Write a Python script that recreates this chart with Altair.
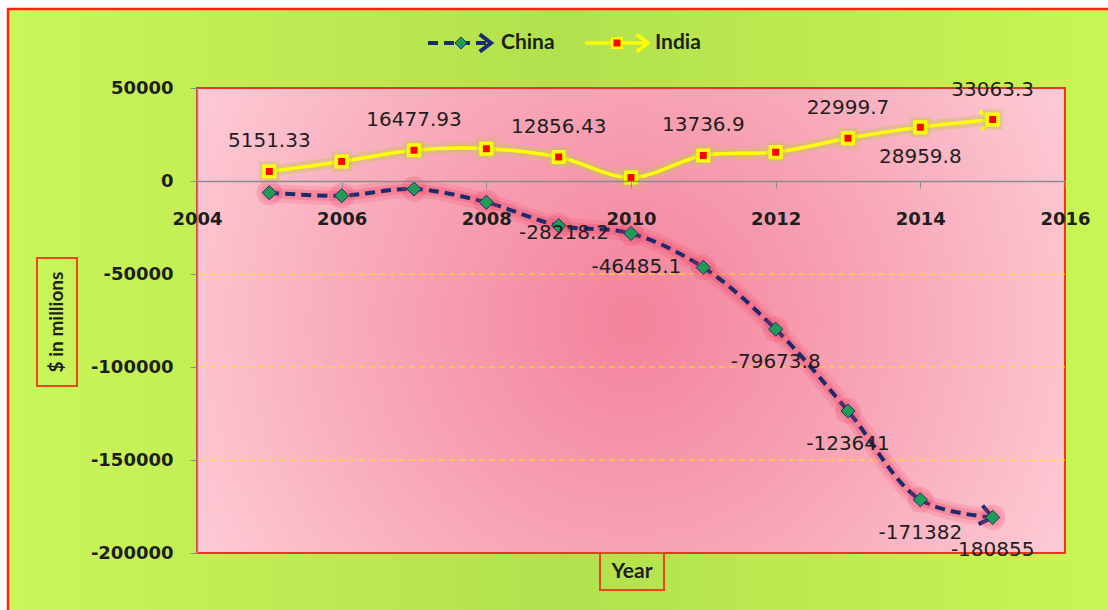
import altair as alt
import pandas as pd

# Trade balance per year, $ in millions
YEARS = [2005, 2006, 2007, 2008, 2009, 2010, 2011, 2012, 2013, 2014, 2015]
CHINA = [-6300, -7900, -4300, -11450, -24000, -28218.2, -46485.1,
         -79673.8, -123641, -171382, -180855]
INDIA = [5151.33, 10450, 16477.93, 17400, 12856.43, 1900, 13736.9,
         15500, 22999.7, 28959.8, 33063.3]

# years that carry a value label, grouped by where the label sits
INDIA_LABEL_ABOVE = [2005, 2007, 2009, 2011, 2013, 2015]
INDIA_LABEL_BELOW = [2014]
CHINA_LABEL_LEFT = [2010, 2011]
CHINA_LABEL_BELOW = [2012, 2013, 2014, 2015]

X_TICKS = [2004, 2006, 2008, 2010, 2012, 2014, 2016]
Y_TICKS = [50000, 0, -50000, -100000, -150000, -200000]
GRID_LINES = [-50000, -100000, -150000]

W, H = 868, 465
PAD = {"left": 197, "top": 88, "right": 43, "bottom": 57}
ZERO_PX = H * Y_TICKS[0] / (Y_TICKS[0] - Y_TICKS[-1])

NAVY = "#1b2b6e"
TEXT = "#1e1e1e"
LABEL_FONT = "DejaVu Sans"
TITLE_FONT = "Lato"


def fmt(v):
    return ("%f" % v).rstrip("0").rstrip(".")


china = pd.DataFrame({"year": YEARS, "value": CHINA, "label": [fmt(v) for v in CHINA]})
india = pd.DataFrame({"year": YEARS, "value": INDIA, "label": [fmt(v) for v in INDIA]})
grid = pd.DataFrame({"value": GRID_LINES})
one = pd.DataFrame({"k": [0]})

x_scale = alt.Scale(domain=[X_TICKS[0], X_TICKS[-1]], nice=False, zero=False)
y_scale = alt.Scale(domain=[Y_TICKS[-1], Y_TICKS[0]], nice=False, zero=False)

x_axis = alt.Axis(
    values=X_TICKS, orient="bottom", offset=-(H - ZERO_PX), title=None,
    grid=False, zindex=1, labelExpr="datum.value + ''", labelFlush=False,
    labelOverlap=False, tickSize=7, tickColor="#8c8c8c", domainColor="#8c8c8c",
    domainWidth=1.5, labelFont=LABEL_FONT, labelFontWeight="bold",
    labelFontSize=18, labelColor=TEXT, labelPadding=22,
)
y_axis = alt.Axis(
    values=Y_TICKS, title=None, grid=False, zindex=1,
    labelExpr="datum.value + ''", labelFlush=False, labelOverlap=False,
    tickSize=7, tickColor="#8c8c8c", domainColor="#8c8c8c", domainWidth=1.5,
    labelFont=LABEL_FONT, labelFontWeight="bold", labelFontSize=18,
    labelColor=TEXT, labelPadding=17,
)

X = alt.X("year:Q", scale=x_scale, axis=x_axis)
Y = alt.Y("value:Q", scale=y_scale, axis=y_axis)

# chart background and plot area
outer_bg = alt.Chart(one).mark_rect(
    fill=alt.LinearGradient(
        gradient="linear", x1=0, x2=1, y1=0, y2=0,
        stops=[alt.GradientStop(color="#cbf659", offset=0),
               alt.GradientStop(color="#b1e14d", offset=0.5),
               alt.GradientStop(color="#c9f654", offset=1)]),
    stroke="#ff2010", strokeWidth=2.5,
).encode(x=alt.value(-PAD["left"] + 8), x2=alt.value(W + PAD["right"] + 10),
         y=alt.value(-PAD["top"] + 9), y2=alt.value(H + PAD["bottom"] + 10))

plot_bg = alt.Chart(one).mark_rect(
    fill=alt.RadialGradient(
        gradient="radial", x1=0.5, y1=0.5, x2=0.5, y2=0.5, r1=0, r2=0.68,
        stops=[alt.GradientStop(color="#f3829b", offset=0),
               alt.GradientStop(color="#f8a8b9", offset=0.45),
               alt.GradientStop(color="#ffdbe2", offset=1)]),
    stroke="#f0321e", strokeWidth=2,
).encode(x=alt.value(0), x2=alt.value(W), y=alt.value(0), y2=alt.value(H))

grid_rules = alt.Chart(grid).mark_rule(
    color="#ffe600", strokeDash=[6, 4], strokeWidth=1.2
).encode(y=Y)

# series lines with soft halos
china_base = alt.Chart(china)
india_base = alt.Chart(india)

china_glow1 = china_base.mark_line(
    interpolate="catmull-rom", color="#f0405f", strokeWidth=18, opacity=0.16,
    strokeCap="round").encode(x=X, y=Y)
china_glow2 = china_base.mark_line(
    interpolate="catmull-rom", color="#ee3c5c", strokeWidth=10, opacity=0.25,
    strokeCap="round").encode(x=X, y=Y)
india_glow = india_base.mark_line(
    interpolate="catmull-rom", color="#c9c45a", strokeWidth=11, opacity=0.45,
    strokeCap="round").encode(x=X, y=Y)

china_line = china_base.mark_line(
    interpolate="catmull-rom", color=NAVY, strokeWidth=4, strokeDash=[10, 6]
).encode(x=X, y=Y)
india_line = india_base.mark_line(
    interpolate="catmull-rom", color="#ffff00", strokeWidth=3.5
).encode(x=X, y=Y)

ARROW = "M-1.3,-1L0,0L-1.3,1"
last_year = alt.datum.year == YEARS[-1]
china_arrow = china_base.mark_point(
    shape=ARROW, filled=False, stroke=NAVY, strokeWidth=4, size=360, angle=12,
    opacity=1).encode(x=X, y=Y).transform_filter(last_year)
india_arrow = india_base.mark_point(
    shape=ARROW, filled=False, stroke="#ffff00", strokeWidth=3.5, size=360,
    angle=354, opacity=1).encode(x=X, y=Y).transform_filter(last_year)

china_halo = china_base.mark_circle(color="#f0405f", size=650, opacity=0.22).encode(x=X, y=Y)
india_halo = india_base.mark_square(color="#c9c45a", size=420, opacity=0.4).encode(x=X, y=Y)

china_pts = china_base.mark_point(
    shape="diamond", filled=True, fill="#1f9d58", stroke=NAVY, strokeWidth=1,
    size=200, opacity=1).encode(x=X, y=Y)
india_pts = india_base.mark_square(
    fill="#ff0000", stroke="#ffff00", strokeWidth=3.5, size=110, opacity=1
).encode(x=X, y=Y)

# value labels
def labels(base, years, **kw):
    return base.mark_text(font=LABEL_FONT, fontSize=20, color=TEXT, **kw).encode(
        x=X, y=Y, text="label:N"
    ).transform_filter(alt.FieldOneOfPredicate(field="year", oneOf=years))

india_above = labels(india_base, INDIA_LABEL_ABOVE, dy=-30, baseline="middle")
india_below = labels(india_base, INDIA_LABEL_BELOW, dy=30, baseline="middle")
china_left = labels(china_base, CHINA_LABEL_LEFT, dx=-22, align="right", baseline="middle")
china_below = labels(china_base, CHINA_LABEL_BELOW, dy=33, baseline="middle")

# axis titles in outlined boxes
BOX = "#ee4422"
ytitle_box = alt.Chart(one).mark_rect(fill="transparent", stroke=BOX, strokeWidth=2).encode(
    x=alt.value(-160), x2=alt.value(-120), y=alt.value(170), y2=alt.value(298))
ytitle = alt.Chart(one).mark_text(
    text="$ in millions", angle=270, font=TITLE_FONT, fontWeight="bold",
    fontSize=19, color=TEXT, baseline="middle", align="center",
).encode(x=alt.value(-140), y=alt.value(234))
xtitle_box = alt.Chart(one).mark_rect(fill="transparent", stroke=BOX, strokeWidth=2).encode(
    x=alt.value(403), x2=alt.value(467), y=alt.value(H), y2=alt.value(H + 37))
xtitle = alt.Chart(one).mark_text(
    text="Year", font=TITLE_FONT, fontWeight="bold", fontSize=21, color=TEXT,
    baseline="middle", align="center",
).encode(x=alt.value(435), y=alt.value(H + 19))

# legend
LY = -45
leg_china_line = alt.Chart(one).mark_rule(color=NAVY, strokeWidth=4, strokeDash=[10, 6]).encode(
    x=alt.value(231), x2=alt.value(292), y=alt.value(LY))
leg_china_arrow = alt.Chart(one).mark_point(
    shape=ARROW, filled=False, stroke=NAVY, strokeWidth=4, size=300, opacity=1
).encode(x=alt.value(294), y=alt.value(LY))
leg_china_pt = alt.Chart(one).mark_point(
    shape="diamond", filled=True, fill="#1f9d58", stroke=NAVY, strokeWidth=1,
    size=150, opacity=1).encode(x=alt.value(264), y=alt.value(LY))
leg_china_txt = alt.Chart(one).mark_text(
    text="China", font=TITLE_FONT, fontWeight="bold", fontSize=21, color=TEXT,
    align="left", baseline="middle").encode(x=alt.value(304), y=alt.value(LY))

leg_india_line = alt.Chart(one).mark_rule(color="#ffff00", strokeWidth=3.5).encode(
    x=alt.value(388), x2=alt.value(449), y=alt.value(LY))
leg_india_arrow = alt.Chart(one).mark_point(
    shape=ARROW, filled=False, stroke="#ffff00", strokeWidth=3.5, size=300, opacity=1
).encode(x=alt.value(451), y=alt.value(LY))
leg_india_pt = alt.Chart(one).mark_square(
    fill="#ff0000", stroke="#ffff00", strokeWidth=2.5, size=90, opacity=1
).encode(x=alt.value(420), y=alt.value(LY))
leg_india_txt = alt.Chart(one).mark_text(
    text="India", font=TITLE_FONT, fontWeight="bold", fontSize=21, color=TEXT,
    align="left", baseline="middle").encode(x=alt.value(458), y=alt.value(LY))

chart = alt.layer(
    outer_bg, plot_bg, grid_rules,
    china_glow1, china_glow2, india_glow,
    china_line, india_line,
    china_arrow, india_arrow,
    china_halo, india_halo,
    china_pts, india_pts,
    india_above, india_below, china_left, china_below,
    ytitle_box, ytitle, xtitle_box, xtitle,
    leg_china_line, leg_china_arrow, leg_china_pt, leg_china_txt,
    leg_india_line, leg_india_arrow, leg_india_pt, leg_india_txt,
).properties(
    width=W, height=H, padding=PAD, autosize=alt.AutoSizeParams(type="none"),
    background="white",
).configure_view(stroke="transparent")

chart.save("out.html", embed_options={"renderer": "svg", "actions": False})
